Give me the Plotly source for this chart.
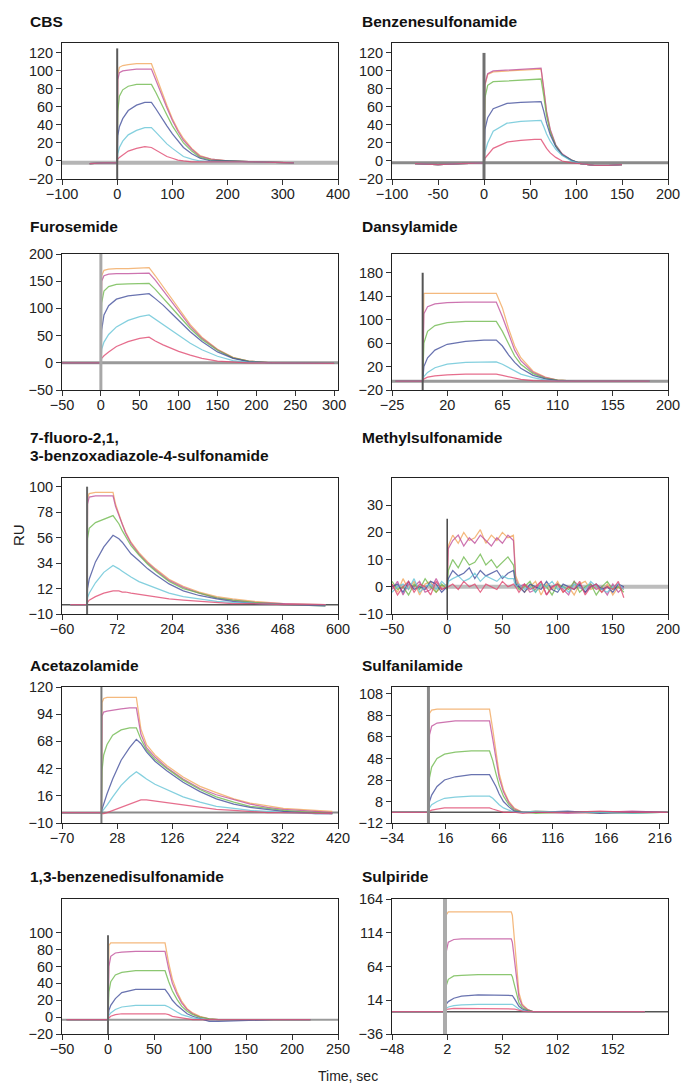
import plotly.graph_objects as go

W, H = 683, 1086
FONT = "Liberation Sans, Arial, Helvetica, sans-serif"
COLORS = ["#f2a65a", "#c04e9a", "#6cb84a", "#3f4c9a", "#62c3d6", "#e0466e"]

# ---------------- data ----------------
# CBS
cbs_t = [-50, -25, 0, 1, 4, 10, 20, 35, 50, 62, 70, 80, 90, 100, 110, 120, 135, 150, 170, 200, 250, 320]
cbs_orange = [-3, -2, -2, 96, 104, 106, 107, 108, 108, 108, 95, 78, 62, 47, 35, 25, 14, 6, 2, 0, -1, -2]
cbs_magenta = [-3, -2, -2, 90, 98, 100, 101, 102, 102, 102, 90, 74, 59, 45, 33, 23, 13, 5, 2, 0, -1, -2]
cbs_green = [-3, -2, -2, 55, 72, 79, 83, 85, 85, 85, 76, 63, 51, 39, 29, 20, 11, 4, 1, 0, -1, -2]
cbs_blue = [-3, -2, -2, 28, 38, 47, 56, 62, 65, 65, 58, 48, 39, 30, 22, 15, 8, 3, 0, 0, -1, -2]
cbs_cyan = [-3, -2, -2, 8, 15, 22, 29, 34, 37, 37, 32, 25, 19, 14, 9, 5, 2, 0, -1, -1, -1, -2]
cbs_red = [-3, -2, -2, 2, 4, 7, 11, 14, 16, 15, 12, 8, 5, 3, 1, 0, -1, -1, -1, -1, -1, -2]
cbs_xticks = [-100, 0, 100, 200, 300, 400]
cbs_xlabels = ["\u2212100", "0", "100", "200", "300", "400"]
cbs_yticks = [-20, 0, 20, 40, 60, 80, 100, 120]

# Benzenesulfonamide
bz_t = [-75, -50, -25, 0, 1, 4, 10, 25, 40, 55, 62, 65, 68, 72, 78, 85, 95, 105, 120, 135, 150]
bz_orange = [-3, -4, -3, -2, 84, 96, 99, 100, 101, 102, 102, 79, 54, 34, 17, 7, 1, -3, -5, -5, -4]
bz_magenta = [-3, -4, -3, -2, 85, 97, 100, 101, 102, 103, 103, 80, 55, 35, 18, 8, 1, -3, -5, -5, -4]
bz_green = [-3, -4, -3, -2, 70, 84, 88, 89, 90, 91, 91, 72, 50, 32, 17, 7, 1, -3, -5, -5, -4]
bz_blue = [-3, -4, -3, -2, 35, 48, 58, 64, 65, 66, 66, 55, 42, 29, 16, 7, 1, -3, -5, -5, -4]
bz_cyan = [-3, -4, -3, -2, 10, 20, 33, 42, 44, 45, 45, 38, 30, 22, 13, 6, 0, -3, -5, -5, -4]
bz_red = [-3, -4, -3, -2, 3, 7, 14, 21, 23, 24, 24, 19, 14, 9, 4, 0, -2, -3, -5, -5, -4]
bz_xticks = [-100, -50, 0, 50, 100, 150, 200]
bz_xlabels = ["\u2212100", "-50", "0", "50", "100", "150", "200"]
bz_yticks = [-20, 0, 20, 40, 60, 80, 100, 120]

# Furosemide
fu_t = [-50, -20, 0, 1, 4, 10, 20, 35, 50, 62, 70, 80, 90, 100, 115, 130, 150, 170, 190, 220, 260, 300]
fu_orange = [0, 0, 0, 160, 170, 172, 173, 173, 174, 175, 160, 140, 118, 98, 70, 47, 25, 10, 3, 0, -1, -1]
fu_magenta = [0, 0, 0, 150, 160, 163, 164, 164, 165, 165, 152, 133, 113, 94, 67, 45, 24, 9, 3, 0, -1, -1]
fu_green = [0, 0, 0, 110, 132, 140, 144, 145, 146, 146, 135, 120, 103, 87, 63, 43, 23, 9, 3, 0, -1, -1]
fu_blue = [0, 0, 0, 60, 88, 105, 117, 123, 126, 127, 118, 106, 92, 78, 57, 39, 20, 8, 2, 0, -1, -1]
fu_cyan = [0, 0, 0, 25, 38, 52, 66, 78, 85, 88, 80, 70, 60, 50, 36, 24, 12, 4, 1, 0, -1, -1]
fu_red = [0, 0, 0, 8, 13, 20, 30, 39, 45, 47, 40, 33, 27, 21, 14, 8, 3, 1, 0, 0, -1, -1]
fu_xticks = [-50, 0, 50, 100, 150, 200, 250, 300]
fu_xlabels = ["\u221250", "0", "50", "100", "150", "200", "250", "300"]
fu_yticks = [-50, 0, 50, 100, 150, 200]

# Dansylamide
ds_t = [-22, 0, 1, 4, 10, 20, 35, 50, 60, 65, 70, 75, 80, 90, 100, 110, 125, 150, 185]
ds_orange = [-5, -5, 145, 145, 145, 145, 145, 145, 145, 120, 85, 55, 35, 12, 2, -3, -5, -5, -5]
ds_magenta = [-5, -5, 110, 122, 127, 129, 130, 130, 130, 105, 75, 48, 30, 10, 1, -3, -5, -5, -5]
ds_green = [-5, -5, 60, 80, 90, 95, 97, 97, 97, 80, 58, 38, 24, 8, 0, -3, -5, -5, -5]
ds_blue = [-5, -5, 20, 35, 48, 58, 63, 65, 65, 55, 40, 27, 17, 5, -1, -4, -5, -5, -5]
ds_cyan = [-5, -5, 3, 10, 18, 24, 27, 28, 28, 24, 18, 12, 7, 1, -3, -5, -5, -5, -5]
ds_red = [-5, -5, -1, 2, 4, 6, 7, 7, 7, 5, 3, 0, -2, -4, -5, -5, -5, -5, -5]
ds_xticks = [-25, 20, 65, 110, 155, 200]
ds_xlabels = ["\u221225", "20", "65", "110", "155", "200"]
ds_yticks = [-20, 20, 60, 100, 140, 180]

# 7-fluoro-2,1,3-benzoxadiazole-4-sulfonamide
fl_t = [-40, 0, 1, 5, 20, 40, 62, 68, 76, 84, 92, 105, 124, 145, 164, 196, 230, 268, 310, 348, 400, 469, 570]
fl_orange = [-2, -2, 90, 94, 95, 95, 95, 85, 76, 68, 61, 52, 43, 35, 29, 20, 14, 9, 5, 3, 1, -1, -2]
fl_magenta = [-2, -2, 85, 91, 92, 92, 92, 83, 75, 67, 60, 51, 42, 34, 28, 19, 13, 8, 4, 2, 0, -1, -2]
fl_green = [-2, -2, 55, 64, 69, 72, 75, 72, 68, 62, 57, 49, 41, 33, 27, 18, 12, 8, 4, 2, 0, -2, -3]
fl_blue = [-2, -2, 12, 20, 35, 48, 58, 57, 55, 52, 48, 42, 36, 29, 24, 16, 10, 6, 3, 1, -1, -2, -3]
fl_cyan = [-2, -2, 4, 8, 17, 26, 32, 31, 29, 27, 25, 22, 18, 15, 12, 8, 5, 3, 1, 0, -1, -2, -2]
fl_red = [-2, -2, 0, 2, 5, 8, 10, 10, 10, 9, 9, 8, 7, 6, 5, 3, 2, 1, 0, -1, -1, -2, -2]
fl_xticks = [-60, 72, 204, 336, 468, 600]
fl_xlabels = ["\u221260", "72", "204", "336", "468", "600"]
fl_yticks = [-10, 12, 34, 56, 78, 100]

# Methylsulfonamide
me_t = [-50, -45, -40, -35, -30, -25, -20, -15, -10, -5, 0, 1,
        5, 10, 15, 20, 25, 30, 35, 40, 45, 50, 55, 60, 62,
        65, 70, 75, 80, 85, 90, 95, 100, 105, 110, 115, 120, 125, 130, 135, 140, 145, 150, 155, 160]
me_orange = [1, -2, 3, -1, 2, -3, 1, 2, -2, 0, 1, 15,
             19, 16, 20, 17, 18, 21, 16, 19, 17, 20, 18, 19, 4,
             1, -2, 0, 2, -3, 1, -1, 2, -2, 0, -3, 1, 2, -1, 0, -2, 1, -3, 0, -1]
me_magenta = [-1, 2, -3, 1, 0, 2, -2, -1, 3, -1, 0, 14,
              17, 19, 15, 18, 16, 19, 17, 15, 18, 16, 19, 17, 3,
              0, 1, -2, -1, 2, -3, 0, 1, -1, -3, 2, 0, -2, 1, -1, 0, -3, 1, -2, 0]
me_green = [2, -1, 0, -3, 1, -1, 3, 0, -2, 1, -1, 6,
            10, 7, 11, 8, 9, 12, 8, 10, 7, 9, 11, 8, 2,
            -1, 0, 2, -2, 1, 0, -3, 1, 0, -1, 2, -2, 0, 1, -3, 0, 2, -1, 0, -2]
me_blue = [0, 1, -2, 2, -1, 0, -1, 2, 1, -2, 0, 3,
           6, 4, 5, 7, 3, 6, 4, 5, 6, 3, 5, 6, 1,
           0, -2, 1, 0, -1, 2, -1, -2, 1, 0, -1, 1, -2, 0, 1, -1, 0, -2, 1, 0]
me_cyan = [-2, 0, 1, -1, 3, -2, 0, 1, -1, 2, 0, 2,
           3, 4, 2, 3, 5, 2, 4, 3, 2, 4, 3, 3, 0,
           1, -1, 0, -2, 1, 0, 2, -1, 0, -2, 1, 0, -1, 2, 0, -1, -2, 0, 1, -1]
me_red = [1, -3, 0, 2, -2, 1, 0, -3, 2, -1, 0, 0,
          1, -1, 2, 0, 1, -2, 1, 0, -1, 2, 0, 1, 0,
          -2, 1, -1, 0, 2, -3, 0, 1, -2, 0, -1, 2, -3, 0, 1, -2, 0, -1, 2, -4]
me_xticks = [-50, 0, 50, 100, 150, 200]
me_xlabels = ["\u221250", "0", "50", "100", "150", "200"]
me_yticks = [-10, 0, 10, 20, 30]

# Acetazolamide
ac_t = [-70, -35, 0, 1, 4, 10, 20, 35, 50, 62, 70, 80, 95, 116, 145, 175, 204, 235, 264, 295, 323, 380, 410]
ac_orange = [0, 0, 0, 105, 109, 110, 110, 110, 110, 110, 80, 65, 55, 45, 34, 25, 19, 13, 9, 6, 4, 2, 1]
ac_magenta = [0, 0, 0, 92, 96, 97, 98, 99, 100, 100, 75, 62, 53, 43, 32, 23, 17, 12, 8, 5, 3, 1, 0]
ac_green = [0, 0, 0, 40, 55, 65, 74, 79, 81, 81, 70, 60, 51, 42, 31, 22, 15, 10, 6, 4, 2, 0, -1]
ac_blue = [0, 0, 0, 3, 8, 18, 32, 50, 62, 70, 66, 58, 49, 40, 29, 20, 13, 8, 5, 3, 1, -1, -1]
ac_cyan = [0, 0, 0, 1, 3, 7, 15, 26, 34, 39, 36, 32, 27, 22, 15, 10, 6, 4, 2, 1, 0, -1, -1]
ac_red = [0, 0, 0, -1, -1, 0, 2, 5, 8, 11, 12, 12, 11, 9, 7, 5, 3, 2, 1, 0, 0, -1, -1]
ac_xticks = [-70, 28, 126, 224, 322, 420]
ac_xlabels = ["\u221270", "28", "126", "224", "322", "420"]
ac_yticks = [-10, 16, 42, 68, 94, 120]

# Sulfanilamide
sf_t = [-34, 0, 1, 3, 8, 15, 25, 40, 57, 60, 63, 66, 70, 75, 80, 88, 100, 130, 160, 190, 223]
sf_orange = [-2, -2, 90, 93, 94, 94, 94, 94, 94, 75, 52, 34, 19, 8, 2, -2, -1, -2, -3, -2, -2]
sf_magenta = [-2, -2, 70, 78, 81, 82, 83, 83, 83, 66, 46, 30, 17, 7, 1, -2, -2, -3, -2, -1, -2]
sf_green = [-2, -2, 30, 40, 48, 52, 54, 55, 55, 46, 34, 23, 13, 5, 0, -2, -3, -2, -2, -3, -2]
sf_blue = [-2, -2, 8, 14, 22, 28, 31, 33, 33, 28, 22, 15, 8, 3, -1, -2, -2, -1, -3, -2, -2]
sf_cyan = [-2, -2, 2, 5, 8, 11, 12, 13, 13, 11, 8, 5, 2, 0, -2, -2, -1, -2, -2, -3, -2]
sf_red = [-2, -2, -1, 0, 1, 2, 2, 2, 2, 1, 0, -1, -2, -2, -2, -3, -2, -2, -1, -2, -2]
sf_xticks = [-34, 16, 66, 116, 166, 216]
sf_xlabels = ["\u221234", "16", "66", "116", "166", "216"]
sf_yticks = [-12, 8, 28, 48, 68, 88, 108]

# 1,3-benzenedisulfonamide
bd_t = [-45, -20, 0, 1, 3, 8, 15, 30, 45, 62, 66, 70, 75, 80, 86, 92, 100, 110, 120, 150, 180, 220]
bd_orange = [-3, -3, -3, 85, 88, 88, 88, 88, 88, 88, 64, 45, 30, 19, 10, 5, 1, -2, -3, -3, -3, -3]
bd_magenta = [-3, -3, -3, 60, 72, 76, 77, 78, 78, 78, 57, 40, 27, 17, 9, 4, 0, -2, -3, -3, -3, -3]
bd_green = [-3, -3, -3, 30, 42, 50, 53, 55, 55, 55, 42, 31, 21, 13, 7, 3, 0, -2, -3, -3, -3, -3]
bd_blue = [-3, -3, -3, 8, 14, 22, 29, 33, 33, 33, 27, 20, 14, 9, 4, 1, -2, -5, -5, -4, -3, -3]
bd_cyan = [-3, -3, -3, 2, 5, 9, 12, 14, 14, 14, 12, 9, 6, 3, 1, -1, -2, -3, -3, -3, -3, -3]
bd_red = [-3, -3, -3, -1, 1, 3, 4, 4, 4, 4, 3, 1, 0, -1, -2, -3, -3, -3, -3, -3, -3, -3]
bd_xticks = [-50, 0, 50, 100, 150, 200, 250]
bd_xlabels = ["\u221250", "0", "50", "100", "150", "200", "250"]
bd_yticks = [-20, 0, 20, 40, 60, 80, 100]

# Sulpiride
sp_t = [-48, 0, 1, 3, 8, 15, 30, 45, 60, 61, 63, 65, 67, 70, 75, 80, 100, 140, 181]
sp_orange = [-3, -3, 140, 145, 145, 145, 145, 145, 145, 140, 100, 55, 25, 8, 0, -3, -3, -3, -3]
sp_magenta = [-3, -3, 85, 100, 104, 105, 105, 105, 105, 100, 72, 40, 18, 6, 0, -3, -3, -3, -3]
sp_green = [-3, -3, 35, 45, 50, 51, 52, 52, 52, 49, 36, 20, 10, 3, -1, -3, -3, -3, -3]
sp_blue = [-3, -3, 8, 12, 17, 20, 22, 22, 22, 21, 16, 10, 5, 1, -2, -3, -3, -3, -3]
sp_cyan = [-3, -3, 2, 4, 6, 7, 8, 8, 8, 8, 6, 3, 1, -1, -3, -3, -3, -3, -3]
sp_red = [-3, -3, 0, 1, 2, 2, 2, 2, 2, 2, 1, 0, -1, -2, -3, -3, -3, -3, -3]
sp_xticks = [-48, 2, 52, 102, 152]
sp_xlabels = ["\u221248", "2", "52", "102", "152"]
sp_yticks = [-36, 14, 64, 114, 164]

titles = ["CBS", "Benzenesulfonamide", "Furosemide", "Dansylamide",
          "7-fluoro-2,1,|3-benzoxadiazole-4-sulfonamide", "Methylsulfonamide",
          "Acetazolamide", "Sulfanilamide", "1,3-benzenedisulfonamide", "Sulpiride"]

# ---------------- layout config ----------------
COLS = [(62, 338), (392, 668)]
ROWS = [(43, 179), (254, 390), (478, 614), (687, 823), (899, 1034)]
TITLE_X = [28, 360]
TITLE_Y = [22, 227, 438, 665, 876]

panels = [
    dict(t=cbs_t, ys=[cbs_orange, cbs_magenta, cbs_green, cbs_blue, cbs_cyan, cbs_red],
         xr=[-100, 400], yr=[-20, 131], xt=cbs_xticks, xl=cbs_xlabels, yt=cbs_yticks,
         vl=dict(c="#5a5a5a", w=2, y=(-20, 125)), hl=dict(c="#b5b5b5", w=4, y=-2)),
    dict(t=bz_t, ys=[bz_orange, bz_magenta, bz_green, bz_blue, bz_cyan, bz_red],
         xr=[-100, 200], yr=[-20, 131], xt=bz_xticks, xl=bz_xlabels, yt=bz_yticks,
         vl=dict(c="#707070", w=3, y=(-20, 120)), hl=dict(c="#8a8a8a", w=3, y=-2)),
    dict(t=fu_t, ys=[fu_orange, fu_magenta, fu_green, fu_blue, fu_cyan, fu_red],
         xr=[-50, 305], yr=[-50, 200], xt=fu_xticks, xl=fu_xlabels, yt=fu_yticks,
         vl=dict(c="#a8a8a8", w=3, y=None), hl=dict(c="#9a9a9a", w=3, y=0)),
    dict(t=ds_t, ys=[ds_orange, ds_magenta, ds_green, ds_blue, ds_cyan, ds_red],
         xr=[-25, 200], yr=[-20, 212], xt=ds_xticks, xl=ds_xlabels, yt=ds_yticks,
         vl=dict(c="#555555", w=2, y=(-20, 180)), hl=dict(c="#9a9a9a", w=3, y=-5)),
    dict(t=fl_t, ys=[fl_orange, fl_magenta, fl_green, fl_blue, fl_cyan, fl_red],
         xr=[-60, 600], yr=[-10, 107.5], xt=fl_xticks, xl=fl_xlabels, yt=fl_yticks,
         vl=dict(c="#666666", w=2, y=(-10, 100)), hl=dict(c="#555555", w=1.5, y=-2)),
    dict(t=me_t, ys=[me_orange, me_magenta, me_green, me_blue, me_cyan, me_red],
         xr=[-50, 200], yr=[-10, 40], xt=me_xticks, xl=me_xlabels, yt=me_yticks,
         vl=dict(c="#444444", w=1.5, y=(-10, 25)), hl=dict(c="#bdbdbd", w=4, y=0)),
    dict(t=ac_t, ys=[ac_orange, ac_magenta, ac_green, ac_blue, ac_cyan, ac_red],
         xr=[-70, 420], yr=[-10, 120], xt=ac_xticks, xl=ac_xlabels, yt=ac_yticks,
         vl=dict(c="#7a7a7a", w=2, y=None), hl=dict(c="#8a8a8a", w=2, y=0)),
    dict(t=sf_t, ys=[sf_orange, sf_magenta, sf_green, sf_blue, sf_cyan, sf_red],
         xr=[-34, 223.5], yr=[-12, 114.5], xt=sf_xticks, xl=sf_xlabels, yt=sf_yticks,
         vl=dict(c="#8a8a8a", w=3, y=None), hl=dict(c="#555555", w=1.5, y=-2)),
    dict(t=bd_t, ys=[bd_orange, bd_magenta, bd_green, bd_blue, bd_cyan, bd_red],
         xr=[-50, 250], yr=[-20, 140], xt=bd_xticks, xl=bd_xlabels, yt=bd_yticks,
         vl=dict(c="#666666", w=2, y=(-20, 97)), hl=dict(c="#9a9a9a", w=2, y=-3)),
    dict(t=sp_t, ys=[sp_orange, sp_magenta, sp_green, sp_blue, sp_cyan, sp_red],
         xr=[-48, 202], yr=[-36, 164], xt=sp_xticks, xl=sp_xlabels, yt=sp_yticks,
         vl=dict(c="#ababab", w=4, y=None), hl=dict(c="#555555", w=1.5, y=-3)),
]


def ylab(v):
    return ("\u2212" + str(-v)) if v < 0 else str(v)


fig = go.Figure()
layout = dict(width=W, height=H, margin=dict(l=0, r=0, t=0, b=0, autoexpand=False),
              paper_bgcolor="white", plot_bgcolor="white", showlegend=False,
              font=dict(family=FONT, color="#222"))
shapes, annotations = [], []

for i, p in enumerate(panels):
    n = i + 1
    r, c = divmod(i, 2)
    x0, x1 = COLS[c]
    top, bot = ROWS[r]
    xs = "" if n == 1 else str(n)
    xa, ya = "x" + xs, "y" + xs
    for ys, col in zip(p["ys"], COLORS):
        fig.add_trace(go.Scatter(x=p["t"], y=ys, mode="lines", xaxis=xa, yaxis=ya,
                                 line=dict(color=col, width=1.25), opacity=0.78,
                                 hoverinfo="skip"))
    common = dict(showline=True, mirror=True, linecolor="#222", linewidth=1,
                  ticks="outside", ticklen=5, tickcolor="#333", tickwidth=1,
                  showgrid=False, zeroline=False, fixedrange=True, automargin=False,
                  tickfont=dict(size=14.5, color="#222", family=FONT))
    layout["xaxis" + xs] = dict(common, domain=[x0 / W, x1 / W], anchor=ya,
                                range=p["xr"], tickmode="array", ticklabelstandoff=-3,
                                tickvals=p["xt"], ticktext=p["xl"])
    layout["yaxis" + xs] = dict(common, domain=[1 - bot / H, 1 - top / H], anchor=xa,
                                range=p["yr"], tickmode="array",
                                tickvals=p["yt"], ticktext=[ylab(v) for v in p["yt"]])
    vl, hl = p["vl"], p["hl"]
    if vl["y"] is None:
        shapes.append(dict(type="line", xref=xa, yref=ya + " domain", x0=0, x1=0, y0=0, y1=1,
                           line=dict(color=vl["c"], width=vl["w"]), layer="above"))
    else:
        shapes.append(dict(type="line", xref=xa, yref=ya, x0=0, x1=0,
                           y0=vl["y"][0], y1=vl["y"][1],
                           line=dict(color=vl["c"], width=vl["w"]), layer="above"))
    shapes.append(dict(type="line", xref=xa + " domain", yref=ya, x0=0, x1=1,
                       y0=hl["y"], y1=hl["y"],
                       line=dict(color=hl["c"], width=hl["w"]), layer="below"))
    # title
    lines = titles[i].split("|")
    for k, txt in enumerate(lines):
        ty = TITLE_Y[r] + k * 17
        annotations.append(dict(text="<b>" + txt + "</b>", xref="paper", yref="paper",
                                x=TITLE_X[c] / W, y=1 - ty / H, xanchor="left",
                                yanchor="middle", showarrow=False,
                                font=dict(size=15.5, color="#111", family=FONT)))

annotations.append(dict(text="RU", xref="paper", yref="paper", x=18 / W, y=1 - 535 / H,
                        textangle=-90, showarrow=False, xanchor="center", yanchor="middle",
                        font=dict(size=15, color="#222", family=FONT)))
annotations.append(dict(text="Time, sec", xref="paper", yref="paper", x=348 / W,
                        y=1 - 1076 / H, showarrow=False, xanchor="center", yanchor="middle",
                        font=dict(size=14, color="#222", family=FONT)))

layout["shapes"] = shapes
layout["annotations"] = annotations
fig.update_layout(**layout)
fig.write_html("out.html",
               post_script="document.body.style.margin='0';"
                           "document.documentElement.style.margin='0';"
                           "document.body.style.overflow='hidden';")
